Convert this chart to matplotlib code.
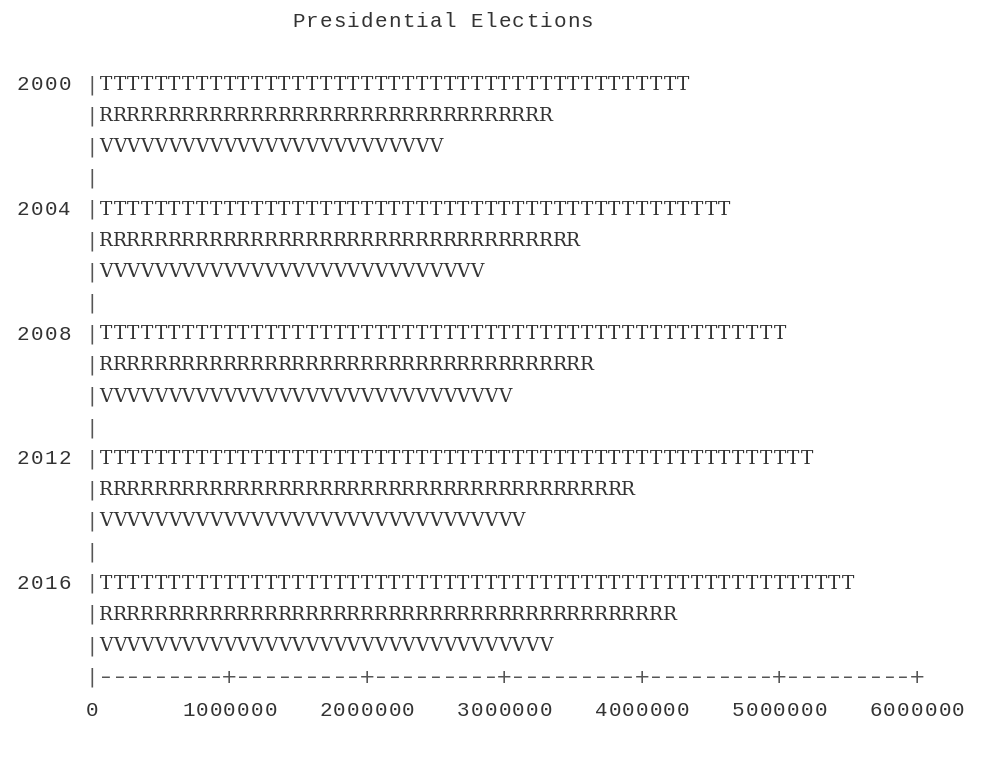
import matplotlib.pyplot as plt

years = ["2000", "2004", "2008", "2012", "2016"]
total = [4300000, 4600000, 5000000, 5200000, 5500000]
registered = [3300000, 3500000, 3600000, 3900000, 4200000]
voted = [2500000, 2800000, 3000000, 3100000, 3300000]
ticks = [0, 1000000, 2000000, 3000000, 4000000, 5000000, 6000000]
title = "Presidential Elections"

step = 100000  # one character per 100000
ink = "#333333"

fig = plt.figure(figsize=(9.98, 7.57), dpi=100)
ax = fig.add_axes([0, 0, 1, 1])
# pixel 92 -> value 0, pixel 917 -> 6000000 ; rows every 31.16 px starting at 85
px = 6000000 / 825
ax.set_xlim(-92 * px, (998 - 92) * px)
ax.set_ylim((757 - 85) / 31.16, -85 / 31.16)
ax.axis("off")


def chars(s, start, row, **kw):
    # one glyph per grid cell, so widths follow the x scale
    for i, c in enumerate(s):
        ax.text((start + i) * step, row, c, ha="center", va="center", **kw)


letter = dict(family="DejaVu Serif", fontsize=13.3, color=ink)
mono = dict(family="Liberation Mono", fontsize=15, color="#333333")
bar = dict(family="DejaVu Sans", fontsize=14, color="#555555")

chars(title, 15, -2.03, **mono)

row = 0
for k, yr in enumerate(years):
    chars(yr, -5, row, **mono)
    for val, ch in zip([total[k], registered[k], voted[k]], "TRV"):
        chars("|", 0, row, **bar)
        chars(ch * round(val / step), 1, row, **letter)
        row += 1
    if k < len(years) - 1:
        chars("|", 0, row, **bar)
        row += 1

# axis line
n = ticks[-1] // step
for i in range(n + 1):
    c = "|" if i == 0 else ("+" if i % 10 == 0 else "\u2013")
    chars(c, i, row, **bar)
for t in ticks:
    s = str(t)
    chars(s, t // step - (len(s) - 1) / 2, row + 1.06, **mono)

fig.savefig("out.png", dpi=100)
